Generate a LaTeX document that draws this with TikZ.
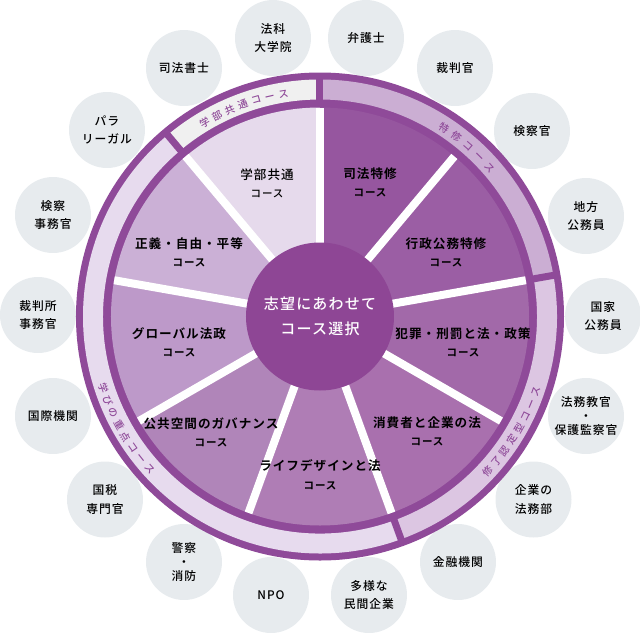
\documentclass[tikz,border=0pt]{standalone}
\usepackage{fontspec}
\setmainfont[LetterSpace=8,BoldFont={Noto Sans CJK JP Bold}]{Noto Sans CJK JP Medium}
\usetikzlibrary{positioning,decorations.text}

\definecolor{ringc}{HTML}{8F4A99}
\definecolor{hubc}{HTML}{8E4695}
\definecolor{outc}{HTML}{E7EBEE}
\definecolor{segA}{HTML}{CBAED3}
\definecolor{segB}{HTML}{DCC6E2}
\definecolor{segC}{HTML}{E7DBEE}
\definecolor{segD}{HTML}{F0F0F0}
\definecolor{secA}{HTML}{E6DAEC}
\definecolor{secB}{HTML}{96569F}
\definecolor{secC}{HTML}{9B5EA4}
\definecolor{secD}{HTML}{A269A9}
\definecolor{secE}{HTML}{A970AE}
\definecolor{secF}{HTML}{AF7DB5}
\definecolor{secG}{HTML}{B085B9}
\definecolor{secH}{HTML}{BD99C9}
\definecolor{secI}{HTML}{CBB0D6}

\newcommand{\crs}{{\fontsize{10.5}{18}\selectfont コース}}

\begin{document}
\begin{tikzpicture}[x=1pt,y=1pt]
\tikzset{O/.style={circle,fill=outc,inner sep=0pt,minimum size=76pt,align=center,
    font=\fontsize{11.8}{18.5}\selectfont},
  S/.style={inner sep=0pt,align=center,font=\fontsize{12.6}{18.5}\bfseries\selectfont},
  T/.style={inner sep=0pt,align=center,font=\fontsize{12.6}{18}\selectfont},
  C/.style={circle,fill=hubc,text=white,inner sep=0pt,minimum size=148pt,align=center,
    font=\fontsize{15}{25}\selectfont},
  gap/.style={white,line width=8pt},
  bar/.style={ringc,line width=7pt},
  ringtext/.style={decorate,decoration={text along path,text align={fit to path},
    text color=ringc,text={|\fontsize{10}{12}\selectfont|#1}}}}

  \useasboundingbox (-320,316.5) rectangle (320,-316.5);

  % outer circles
  \node[O] (o1) at (-47,278.5) {法科\\大学院};
  \node[O] (o2) at (46,278.5) {弁護士};
  \node[O] (o3) at (135,248.5) {裁判官};
  \node[O] (o4) at (212,185.5) {検察官};
  \node[O] (o5) at (266,100.5) {地方\\公務員};
  \node[O] (o6) at (283,0.5) {国家\\公務員};
  \node[O] (o7) at (266,-99.5) {法務教官\\[-4.5pt]・\\[-4.5pt]保護監察官};
  \node[O] (o8) at (213.5,-183) {企業の\\法務部};
  \node[O] (o9) at (138,-245.5) {金融機関};
  \node[O] (o10) at (49,-278.5) {多様な\\民間企業};
  \node[O] (o11) at (-49,-278.5) {NPO};
  \node[O] (o12) at (-136,-245.5) {警察\\[-4.5pt]・\\[-4.5pt]消防};
  \node[O] (o13) at (-215,-183) {国税\\専門官};
  \node[O] (o14) at (-267,-99.5) {国際機関};
  \node[O] (o15) at (-282,1.5) {裁判所\\事務官};
  \node[O] (o16) at (-267,101.5) {検察\\事務官};
  \node[O] (o17) at (-213,186.5) {パラ\\リーガル};
  \node[O] (o18) at (-136,248.5) {司法書士};

  % ring
  \fill[ringc] (0,0) circle (244);
  \foreach \a/\b/\c in {90/10/segA,10/-70/segB,-70/-230/segC,130/90/segD}
    \fill[\c] (\a:217) arc[start angle=\a,end angle=\b,radius=217]
      -- (\b:237) arc[start angle=\b,end angle=\a,radius=237] -- cycle;
  \foreach \a in {90,10,-70,130}
    \draw[bar] (\a:216) -- (\a:238);

  \path[ringtext=学部共通コース] (122:222) arc[start angle=122,end angle=98,radius=222];
  \path[ringtext=特修コース] (58:222) arc[start angle=58,end angle=40,radius=222];
  \path[ringtext=修了認定型コース] (-44:232) arc[start angle=-44,end angle=-18,radius=232];
  \path[ringtext=学びの重点コース] (197:232) arc[start angle=197,end angle=223,radius=232];

  % sectors
  \foreach \a/\c in {130/secA,90/secB,50/secC,10/secD,-30/secE,-70/secF,-110/secG,-150/secH,170/secI}
    \fill[\c] (0,0) -- (\a:209) arc[start angle=\a,end angle=\a-40,radius=209] -- cycle;
  \foreach \a in {130,90,50,10,-30,-70,-110,-150,170}
    \draw[gap] (0,0) -- (\a:209);

  \node[C] (hub) at (0,0) {志望にあわせて\\コース選択};

  % course names
  \node[T] (s1) at (-53,133) {学部共通\\\crs};
  \node[S] (s2) at (50,134) {司法特修\\\crs};
  \node[S] (s3) at (126,64) {行政公務特修\\\crs};
  \node[S] (s4) at (143,-26) {犯罪・刑罰と法・政策\\\crs};
  \node[S] (s5) at (107,-115) {消費者と企業の法\\\crs};
  \node[S] (s6) at (0,-158) {ライフデザインと法\\\crs};
  \node[S] (s7) at (-109,-116) {公共空間のガバナンス\\\crs};
  \node[S] (s8) at (-141,-26) {グローバル法政\\\crs};
  \node[S] (s9) at (-131,64) {正義・自由・平等\\\crs};
\end{tikzpicture}
\end{document}
